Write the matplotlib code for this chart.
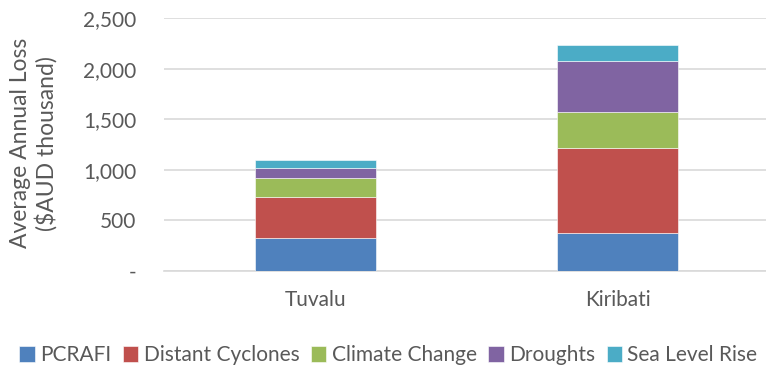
import matplotlib.pyplot as plt
from matplotlib.ticker import FuncFormatter

countries = ["Tuvalu", "Kiribati"]
series_names = ["PCRAFI", "Distant Cyclones", "Climate Change", "Droughts", "Sea Level Rise"]
pcrafi = [320, 379]
distant_cyclones = [411, 836]
climate_change = [188, 353]
droughts = [99, 507]
sea_level_rise = [82, 162]
y_ticks = [0, 500, 1000, 1500, 2000, 2500]

colors = ["#4F81BD", "#C0504D", "#9BBB59", "#8064A2", "#4BACC6"]
text_color = "#595959"
grid_color = "#D9D9D9"

plt.rcParams['font.family'] = ['Lato', 'DejaVu Sans']

fig = plt.figure(figsize=(7.66, 3.70), dpi=100)
ax = fig.add_axes([0.214, 0.268, 0.79, 0.683])

series = [pcrafi, distant_cyclones, climate_change, droughts, sea_level_rise]
x = range(len(countries))
bottom = [0] * len(countries)
for name, vals, col in zip(series_names, series, colors):
    ax.bar(x, vals, width=0.4, bottom=bottom, color=col, label=name,
           edgecolor="#FFFFFF", linewidth=0.4, zorder=3)
    bottom = [b + v for b, v in zip(bottom, vals)]

ax.set_xlim(-0.5, 1.5)
ax.set_ylim(0, 2500)
ax.set_yticks(y_ticks)
ax.yaxis.set_major_formatter(FuncFormatter(lambda v, p: "-" if v == 0 else f"{v:,.0f}"))
ax.set_xticks(list(x))
ax.set_xticklabels(countries)
ax.tick_params(axis='y', length=0, pad=20, labelsize=15, labelcolor=text_color)
ax.tick_params(axis='x', length=0, pad=14, labelsize=15, labelcolor=text_color)
ax.yaxis.grid(True, color=grid_color, linewidth=1.2, zorder=0)
for s in ["top", "right", "left"]:
    ax.spines[s].set_visible(False)
ax.spines["bottom"].set_color(grid_color)
ax.spines["bottom"].set_linewidth(1.2)

ax.set_ylabel("Average Annual Loss\n($AUD thousand)", fontsize=16.5, color=text_color,
              linespacing=1.2)
ax.yaxis.set_label_coords(-0.176, 0.505)

fig.legend(loc="center", bbox_to_anchor=(0.507, 0.04), ncol=5, frameon=False,
           fontsize=15, handlelength=0.75, handleheight=0.75, handletextpad=0.25,
           columnspacing=0.55, labelcolor=text_color, borderaxespad=0)

fig.savefig("out.png", dpi=100)
